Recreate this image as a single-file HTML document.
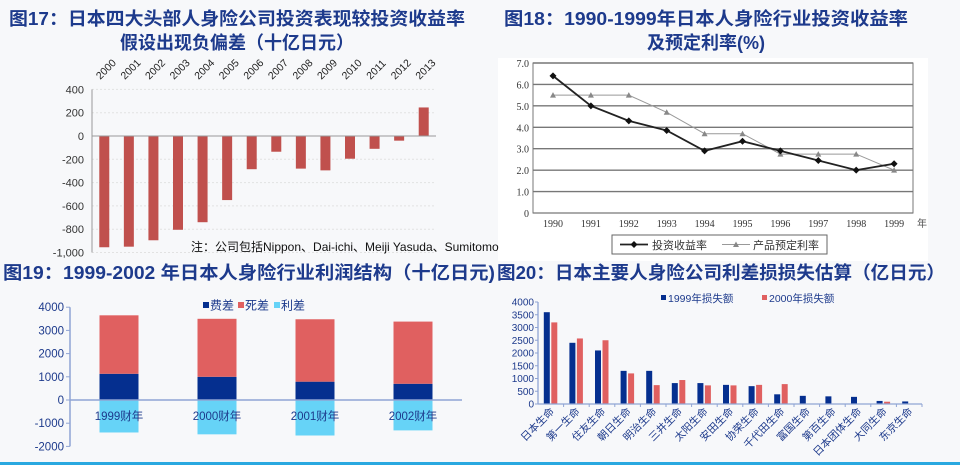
<!DOCTYPE html>
<html><head><meta charset="utf-8">
<style>
html,body{margin:0;padding:0;background:#f7f8fa;}
svg{display:block;font-family:"Liberation Sans","Noto Sans CJK SC",sans-serif;}
.t{font-weight:bold;fill:#1d3a8c;font-size:18px;font-family:"Liberation Sans","Noto Sans CJK SC",sans-serif;}
</style></head>
<body>
<svg id="s" width="960" height="465" viewBox="0 0 960 465" xmlns="http://www.w3.org/2000/svg">
<rect x="0" y="0" width="960" height="465" fill="#f7f8fa"/>
<text class="t" x="237" y="25" text-anchor="middle" textLength="456" lengthAdjust="spacingAndGlyphs">图17：日本四大头部人身险公司投资表现较投资收益率</text>
<text class="t" x="237" y="49" text-anchor="middle">假设出现负偏差（十亿日元）</text>
<text class="t" x="706" y="25" text-anchor="middle" textLength="404" lengthAdjust="spacingAndGlyphs">图18：1990-1999年日本人身险行业投资收益率</text>
<text class="t" x="706" y="49" text-anchor="middle">及预定利率(%)</text>
<text class="t" x="3" y="279" textLength="492" lengthAdjust="spacingAndGlyphs">图19：1999-2002 年日本人身险行业利润结构（十亿日元)</text>
<text class="t" x="497" y="279" textLength="448" lengthAdjust="spacingAndGlyphs">图20：日本主要人身险公司利差损损失估算（亿日元）</text>
<rect x="498" y="58" width="430" height="203" fill="#ffffff"/>
<rect x="0" y="462" width="960" height="3" fill="#29a8e0"/>
<g id="c1"></g>
<g id="c2"></g>
<g id="c3"></g>
<g id="c4"></g>
</svg>
<script>
const NS="http://www.w3.org/2000/svg";
// Fig17 data
const years17=["2000","2001","2002","2003","2004","2005","2006","2007","2008","2009","2010","2011","2012","2013"];
const dev17=[-955,-950,-895,-805,-740,-550,-285,-135,-280,-295,-195,-110,-40,245];
const ticks17=[400,200,0,-200,-400,-600,-800,-1000];
const tickLabels17=["400","200","0","-200","-400","-600","-800","-1,000"];
// Fig18 data
const years18=["1990","1991","1992","1993","1994","1995","1996","1997","1998","1999"];
const invest18=[6.4,5.0,4.3,3.85,2.9,3.35,2.9,2.45,2.0,2.3];
const assumed18=[5.5,5.5,5.5,4.7,3.7,3.7,2.75,2.75,2.75,2.0];
const ticks18=[0,1,2,3,4,5,6,7];
const tickLabels18=["0","1.0","2.0","3.0","4.0","5.0","6.0","7.0"];
// Fig19 data
const years19=["1999财年","2000财年","2001财年","2002财年"];
const fee19=[1130,1000,790,700];
const mort19=[2520,2500,2690,2680];
const rate19=[-1400,-1480,-1530,-1310];
const ticks19=[4000,3000,2000,1000,0,-1000,-2000];
// Fig20 data
const cos20=["日本生命","第一生命","住友生命","朝日生命","明治生命","三井生命","太阳生命","安田生命","协荣生命","千代田生命","富国生命","第百生命","日本团体生命","大同生命","东京生命"];
const loss1999=[3600,2400,2100,1300,1300,820,820,750,700,380,320,300,280,120,100];
const loss2000=[3200,2570,2500,1200,740,940,730,730,750,780,0,0,0,90,0];
const ticks20=[0,500,1000,1500,2000,2500,3000,3500,4000];

function mk(parent,tag,attrs,text){const e=document.createElementNS(NS,tag);for(const k in attrs)e.setAttribute(k,attrs[k]);if(text!==undefined)e.textContent=text;parent.appendChild(e);return e;}

// ---- Fig17
(function(){
const g=document.getElementById('c1');
const y=v=>136-v*0.1165; const x0=92,x1=436;
const step=(x1-x0)/years17.length; const cx=i=>x0+step*(i+0.5);
ticks17.forEach((t,i)=>{
 const gl=mk(g,'line',{x1:x0,x2:x1,y1:y(t),y2:y(t),stroke:'#e2e2e2','stroke-dasharray':'2,2'});
 
 const tl=mk(g,'text',{x:x0-8,y:y(t)+4,'text-anchor':'end','font-size':'11',fill:'#333'},tickLabels17[i]);
 
});
const ax=mk(g,'line',{x1:x0,x2:x0,y1:y(400),y2:y(-1000),stroke:'#999'});

dev17.forEach((v,i)=>{
 const r=mk(g,'rect',{x:cx(i)-5,y:Math.min(y(0),y(v)),width:10,height:Math.abs(y(v)-y(0)),fill:'#c0504d'});
 
 const t=mk(g,'text',{x:cx(i)-4,y:80,'font-size':'10.5',fill:'#222',transform:`rotate(-45 ${cx(i)-4} 80)`},years17[i]);
 
});
const z=mk(g,'line',{x1:x0,x2:x1,y1:y(0),y2:y(0),stroke:'#999'});

const n=mk(g,'text',{x:191,y:251,'font-size':'12',fill:'#111'},'注：公司包括Nippon、Dai-ichi、Meiji Yasuda、Sumitomo');

})();

// ---- Fig18
(function(){
const g=document.getElementById('c2');
const X0=533,X1=913,Y0=213,Y7=63;
const y=v=>Y0-(Y0-Y7)*v/7; const cx=i=>553+37.9*i;
ticks18.forEach((t,i)=>{
 const gl=mk(g,'line',{x1:X0,x2:X1,y1:y(t),y2:y(t),stroke:'#777','stroke-width':i===0?1.2:1.4});
 
 const tl=mk(g,'text',{x:X0-4,y:y(t)+4,'text-anchor':'end','font-size':'10',fill:'#333','font-family':'Liberation Serif, serif'},tickLabels18[i]);
 
});
const b=mk(g,'rect',{x:X0,y:Y7,width:X1-X0,height:Y0-Y7,fill:'none',stroke:'#777'});

years18.forEach((yr,i)=>{
 const t=mk(g,'text',{x:cx(i),y:227,'text-anchor':'middle','font-size':'10',fill:'#333','font-family':'Liberation Serif, serif'},yr);
 
});
const nian=mk(g,'text',{x:917,y:227,'font-size':'10',fill:'#555'},'年');

const p2=assumed18.map((v,i)=>cx(i)+','+y(v)).join(' ');
const l2=mk(g,'polyline',{points:p2,fill:'none',stroke:'#999','stroke-width':1});

assumed18.forEach((v,i)=>{const m=mk(g,'path',{d:`M${cx(i)-3},${y(v)+2.5}L${cx(i)+3},${y(v)+2.5}L${cx(i)},${y(v)-3}Z`,fill:'#888'});
 });
const p1=invest18.map((v,i)=>cx(i)+','+y(v)).join(' ');
const l1=mk(g,'polyline',{points:p1,fill:'none',stroke:'#222','stroke-width':1.8});

invest18.forEach((v,i)=>{const m=mk(g,'path',{d:`M${cx(i)},${y(v)-3.5}L${cx(i)+3.5},${y(v)}L${cx(i)},${y(v)+3.5}L${cx(i)-3.5},${y(v)}Z`,fill:'#111'});
 });
const lg=mk(g,'g',{});

mk(lg,'rect',{x:612,y:235,width:215,height:19,fill:'#fff',stroke:'#666'});
mk(lg,'line',{x1:620,x2:648,y1:244.5,y2:244.5,stroke:'#222','stroke-width':1.8});
mk(lg,'path',{d:'M634,241L637.5,244.5L634,248L630.5,244.5Z',fill:'#111'});
mk(lg,'text',{x:652,y:249,'font-size':'11',fill:'#333'},'投资收益率');
mk(lg,'line',{x1:722,x2:750,y1:244.5,y2:244.5,stroke:'#999'});
mk(lg,'path',{d:'M733,247L739,247L736,241.5Z',fill:'#888'});
mk(lg,'text',{x:753,y:249,'font-size':'11',fill:'#333'},'产品预定利率');
})();

// ---- Fig19
(function(){
const g=document.getElementById('c3');
const y=v=>400-v*0.0232; const x0=70,x1=462; const cx=i=>119+98*i;
ticks19.forEach(t=>{
 const tl=mk(g,'text',{x:x0-6,y:y(t)+4,'text-anchor':'end','font-size':'11.5',fill:'#1d3a8c'},String(t));
 
 mk(g,'line',{x1:x0-4,x2:x0,y1:y(t),y2:y(t),stroke:'#8fa4d4'});
});
const ax=mk(g,'line',{x1:x0,x2:x0,y1:y(4000),y2:y(-2000),stroke:'#8fa4d4','stroke-width':1.5});

years19.forEach((yr,i)=>{
 const bw=39,bx=cx(i)-bw/2;
 const r3=mk(g,'rect',{x:bx,y:y(0),width:bw,height:y(rate19[i])-y(0),fill:'#66d3f7'});
 
 const r1=mk(g,'rect',{x:bx,y:y(fee19[i]),width:bw,height:y(0)-y(fee19[i]),fill:'#052f8f'});
 
 const r2=mk(g,'rect',{x:bx,y:y(fee19[i]+mort19[i]),width:bw,height:y(fee19[i])-y(fee19[i]+mort19[i]),fill:'#e06060'});
 
 const t=mk(g,'text',{x:cx(i),y:420,'text-anchor':'middle','font-size':'11.5',fill:'#1d3a8c'},yr);
 
});
const z=mk(g,'line',{x1:x0,x2:x1,y1:y(0),y2:y(0),stroke:'#8fa4d4','stroke-width':1.5});

const lg=mk(g,'g',{});
[['费差','#052f8f',203],['死差','#e06060',238],['利差','#66d3f7',274]].forEach(a=>{
 mk(lg,'rect',{x:a[2],y:302,width:6,height:6,fill:a[1]});
 mk(lg,'text',{x:a[2]+7,y:309.5,'font-size':'12',fill:'#1d3a8c'},a[0]);
});
})();

// ---- Fig20
(function(){
const g=document.getElementById('c4');
const y=v=>404-v*0.0255; const x0=538,x1=922; const step=(x1-x0)/cos20.length; const cx=i=>x0+step*(i+0.5);
ticks20.forEach(t=>{
 const tl=mk(g,'text',{x:x0-4,y:y(t)+3.5,'text-anchor':'end','font-size':'10',fill:'#1d3a8c'},String(t));
 
 mk(g,'line',{x1:x0-3,x2:x0,y1:y(t),y2:y(t),stroke:'#8fa4d4'});
});
const ax=mk(g,'line',{x1:x0,x2:x0,y1:y(4000),y2:y(0),stroke:'#8fa4d4','stroke-width':1.3});

cos20.forEach((c,i)=>{
 const r1=mk(g,'rect',{x:cx(i)-7,y:y(loss1999[i]),width:6,height:y(0)-y(loss1999[i]),fill:'#052f8f'});
 
 const r2=mk(g,'rect',{x:cx(i)+0.5,y:y(loss2000[i]),width:6,height:y(0)-y(loss2000[i]),fill:'#e06060'});
 
 mk(g,'line',{x1:x0+step*(i+1),x2:x0+step*(i+1),y1:y(0),y2:y(0)+3,stroke:'#8fa4d4'});
 const t=mk(g,'text',{x:cx(i)+4,y:412,'text-anchor':'end','font-size':'10.5',fill:'#1d3a8c',transform:`rotate(-45 ${cx(i)+4} 412)`},c);
 
});
const z=mk(g,'line',{x1:x0,x2:x1,y1:y(0),y2:y(0),stroke:'#8fa4d4','stroke-width':1.3});

const lg=mk(g,'g',{});
mk(lg,'rect',{x:661,y:295,width:5,height:5,fill:'#052f8f'});
mk(lg,'text',{x:668,y:302,'font-size':'10.5',fill:'#1d3a8c'},'1999年损失额');
mk(lg,'rect',{x:762,y:295,width:5,height:5,fill:'#e06060'});
mk(lg,'text',{x:769,y:302,'font-size':'10.5',fill:'#1d3a8c'},'2000年损失额');
})();
</script>
</body></html>
